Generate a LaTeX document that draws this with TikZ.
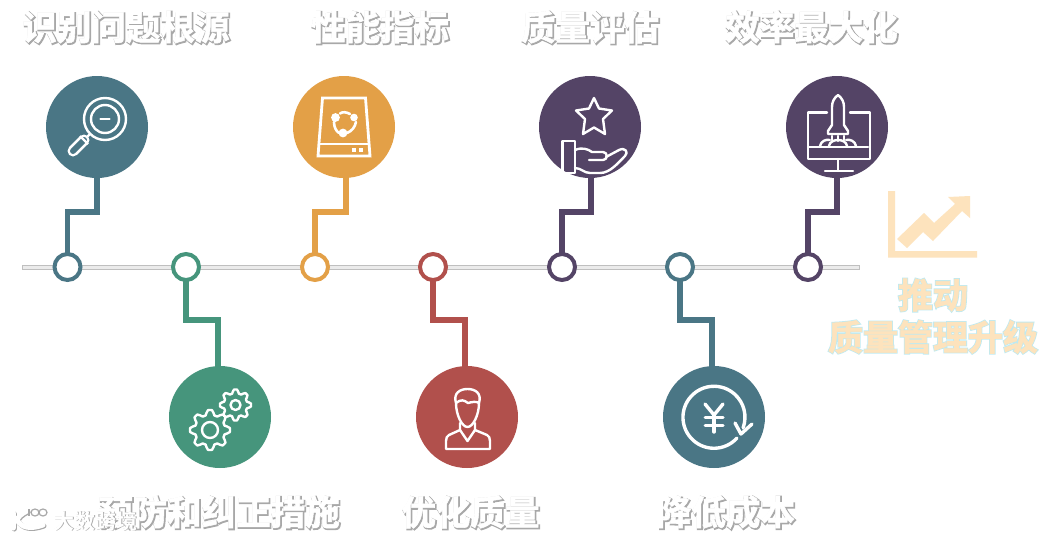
\documentclass[tikz,border=0pt]{standalone}
\usepackage{fontspec}
\usetikzlibrary{backgrounds}
\newfontfamily\cjktop[FakeBold=1.6]{Noto Sans CJK SC Bold}
\newfontfamily\cjkedge[FakeBold=6]{Noto Sans CJK SC Bold}
\newfontfamily\cjkmark{Noto Sans CJK SC Bold}
\definecolor{cteal}{HTML}{4A7685}
\definecolor{cgreen}{HTML}{46957C}
\definecolor{corange}{HTML}{E3A047}
\definecolor{cred}{HTML}{B1504C}
\definecolor{cpurple}{HTML}{544466}
\definecolor{ccream}{HTML}{FDE3BD}
\definecolor{ccyan}{HTML}{BDEAF2}
\definecolor{cedge}{HTML}{A8A8A8}
\tikzset{
  bigdot/.style={circle,inner sep=0pt,minimum size=102pt,fill=#1,draw=none},
  smalldot/.style={circle,inner sep=0pt,minimum size=26pt,fill=white,draw=#1,line width=4pt},
  link/.style={draw=#1,line width=5.5pt,miter limit=10},
  icon/.style={draw=white,line width=2.4pt,line cap=round,line join=round},
  titletop/.style={inner sep=0pt,text=white,font=\cjktop\fontsize{34.5}{40}\selectfont},
  titleedge/.style={inner sep=0pt,text=cedge,font=\cjkedge\fontsize{34.5}{40}\selectfont},
  creamtop/.style={inner sep=0pt,text=ccream,font=\cjktop\fontsize{35}{40}\selectfont},
  creamedge/.style={inner sep=0pt,text=ccyan,font=\cjkedge\fontsize{35}{40}\selectfont}
}
\newcommand{\bigtitle}[4]{%
  \node[titleedge] (#1e) at (#2+1.0,#3+1.0) {#4};
  \node[titletop] (#1) at (#2,#3) {#4};}
\newcommand{\creamtitle}[4]{%
  \node[creamedge] (#1e) at (#2,#3) {#4};
  \node[creamtop] (#1) at (#2,#3) {#4};}
\newcommand{\gearshape}[4]{% cx cy rout teeth
  \draw[icon] plot[smooth cycle,samples=#4*8,domain=0:360-360/(#4*8),variable=\a]
    ({#1+(#3*0.88+#3*0.12*max(-1,min(1,2.4*cos(#4*\a))))*cos(\a)},
     {#2+(#3*0.88+#3*0.12*max(-1,min(1,2.4*cos(#4*\a))))*sin(\a)});}
\begin{document}
\begin{tikzpicture}[x=1pt,y=-1pt]
\useasboundingbox (0,0) rectangle (1060,539);
% big circles
\node[bigdot=cteal] (t1) at (97,127) {};
\node[bigdot=corange] (t2) at (344,127) {};
\node[bigdot=cpurple] (t3) at (590,127) {};
\node[bigdot=cpurple] (t4) at (837,127) {};
\node[bigdot=cgreen] (b1) at (220,417) {};
\node[bigdot=cred] (b2) at (467,417) {};
\node[bigdot=cteal] (b3) at (714,417) {};
% small circles
\node[smalldot=cteal] (s1) at (67.5,267) {};
\node[smalldot=cgreen] (s2) at (186,267) {};
\node[smalldot=corange] (s3) at (315,267) {};
\node[smalldot=cred] (s4) at (433,267) {};
\node[smalldot=cpurple] (s5) at (562,267) {};
\node[smalldot=cteal] (s6) at (680,267) {};
\node[smalldot=cpurple] (s7) at (808,267) {};
% connectors and timeline
\begin{scope}[on background layer]
\fill[white] (0,0) rectangle (1060,539);
\draw[fill=black!8,draw=black!25,line width=1pt] (22,265) rectangle (859,269.5);
\coordinate (k1) at (97,212); \coordinate (k2) at (346,212);
\coordinate (k3) at (591,212); \coordinate (k4) at (837,212);
\coordinate (h2) at (346,127); \coordinate (h3) at (591,127);
\draw[link=cteal] (t1.center) -- (k1) -| (s1.center);
\draw[link=corange] (h2) -- (k2) -| (s3.center);
\draw[link=cpurple] (h3) -- (k3) -| (s5.center);
\draw[link=cpurple] (t4.center) -- (k4) -| (s7.center);
\coordinate (m1) at (218,320); \coordinate (m2) at (465,320); \coordinate (m3) at (712,320);
\coordinate (n1) at (218,380); \coordinate (n2) at (465,380); \coordinate (n3) at (712,380);
\draw[link=cgreen] (s2.center) |- (m1) -- (n1);
\draw[link=cred] (s4.center) |- (m2) -- (n2);
\draw[link=cteal] (s6.center) |- (m3) -- (n3);
\end{scope}
% magnifier
\draw[icon] (105,119) circle[radius=21];
\draw[icon] (105,119) circle[radius=14];
\draw[icon] (100.5,119) -- (109.5,119);
\draw[icon] (90,134) -- (85,139);
\draw[draw=white,line width=11pt,line cap=round] (84,140) -- (73,151);
\draw[draw=cteal,line width=6pt,line cap=round] (84,140) -- (73,151);
\draw[draw=white,line width=2.2pt] (80,136) -- (88,144);
% disk
\draw[icon,line width=2.8pt,line join=miter] (322.5,98) -- (365.5,98) -- (370,156) -- (318,156) -- cycle;
\draw[icon,line width=2.8pt] (319,144) -- (369,144);
\fill[white] (352,147.5) rectangle (356,151.5);
\fill[white] (359,147.5) rectangle (363,151.5);
\fill[white] (335.5,117.5) circle[radius=4.4];
\fill[white] (354,117.5) circle[radius=3.8];
\fill[white] (343,133) circle[radius=4.4];
\draw[icon,line width=2.6pt] (340,113.5) .. controls (343,111.5) and (346,112) .. (350,114);
\draw[icon,line width=2.6pt] (334,122) .. controls (334,127) and (336,131) .. (339,133);
\draw[icon,line width=2.6pt] (356,122) .. controls (355,127) and (352,131) .. (347,133);
% star and hand
\draw[icon] (594,98) -- (599,108.5) -- (612,110.5) -- (603,119) -- (605,134) -- (594,127.5) -- (583,134) -- (585,119) -- (576,110.5) -- (589,108.5) -- cycle;
\draw[icon] (562.5,141) rectangle (575,173);
\draw[icon] (575,150) .. controls (582,147) and (588,149) .. (592,152) -- (603,152) .. controls (608,152) and (608,160) .. (603,160) -- (589,160);
\draw[icon] (606,157) -- (619,150) .. controls (625,147) and (629,152) .. (625,156) .. controls (618,163) and (610,173) .. (600,173) -- (590,173) .. controls (584,173) and (581,168) .. (575,168);
% rocket
\draw[icon] (827,112.5) -- (808,112.5) -- (808,159) -- (870,159) -- (870,112.5) -- (850,112.5);
\draw[icon] (808,147) -- (868,147);
\draw[icon] (838,159) -- (838,171);
\draw[icon] (825,171) -- (853,171);
\draw[icon] (838,95) .. controls (834,98) and (832,102) .. (832,107) -- (832,125) -- (828,131) -- (828,134) -- (848,134) -- (848,131) -- (844,125) -- (844,107) .. controls (844,102) and (842,98) .. (838,95) -- cycle;
\draw[icon] (838,136) -- (838,141);
\draw[icon] (832,136) -- (832,140);
\draw[icon] (844,136) -- (844,140);
\draw[icon] (829,146) .. controls (830,138) and (846,138) .. (847,146);
\draw[icon] (820,146) .. controls (821,141) and (826,139) .. (830,140);
\draw[icon] (856,146) .. controls (855,141) and (850,139) .. (846,140);
% gears
\gearshape{210}{430}{20}{8}
\draw[icon] (210,430) circle[radius=8];
\gearshape{235.5}{405}{15.5}{8}
\draw[icon] (235.5,405) circle[radius=5];
% person
\draw[icon] (456,403) .. controls (453,393) and (460,389) .. (467.5,389) .. controls (475,389) and (482,393) .. (479,403) .. controls (479,415) and (473,427) .. (467.5,427) .. controls (462,427) and (456,415) .. (456,403) -- cycle;
\draw[icon] (456,403) .. controls (461,399) and (464,400) .. (468,403) .. controls (472,402) and (476,401) .. (479,403);
\draw[icon] (460,423) -- (460,430) -- (449,435) .. controls (447,436) and (446,438) .. (446,441) -- (446,449) -- (490,449) -- (490,441) .. controls (490,438) and (489,436) .. (487,435) -- (475,430) -- (475,423);
\draw[icon] (460,430) -- (467.5,441) -- (475,430);
% yen
\draw[icon,line width=3.4pt] (737,438) arc[start angle=42,end angle=380,radius=31];
\draw[icon,line width=3.4pt] (735,423) -- (741,434) -- (752,424);
\draw[icon,line width=3.4pt] (705,404) -- (714,415) -- (723,404);
\draw[icon,line width=3.4pt] (714,415) -- (714,432);
\draw[icon,line width=3pt] (705,417) -- (723,417);
\draw[icon,line width=3pt] (705,425) -- (723,425);
% chart
\fill[ccream] (888,191) -- (895,191) -- (895,251) -- (977,251) -- (977,257.5) -- (888,257.5) -- cycle;
\fill[ccream] (897,239) -- (924,213) -- (934,223) -- (955,204) -- (948,197) -- (970,196) -- (970,218) -- (962,211) -- (933,241) -- (923,232) -- (907,248) -- cycle;
% titles
\bigtitle{a1}{126}{27}{识别问题根源}
\bigtitle{a2}{380}{27}{性能指标}
\bigtitle{a3}{590}{27}{质量评估}
\bigtitle{a4}{811.5}{27}{效率最大化}
\bigtitle{a5}{219}{512}{预防和纠正措施}
\bigtitle{a6}{470.5}{512}{优化质量}
\bigtitle{a7}{726}{512}{降低成本}
\creamtitle{c1}{933}{295}{推动}
\creamtitle{c2}{933}{337}{质量管理升级}
% watermark
\draw[cedge,line width=5pt,line cap=round] (14,514) -- (14,529);
\draw[cedge,line width=5pt,line cap=round] (28,512) .. controls (22,515) and (19,518) .. (18,521) .. controls (22,528) and (30,531) .. (44,526);
\draw[white,line width=5pt,line cap=round] (13,513) -- (13,528);
\draw[white,line width=5pt,line cap=round] (27,511) .. controls (21,514) and (18,517) .. (17,520) .. controls (21,527) and (29,530) .. (43,525);
\draw[cedge,line width=1.2pt] (29,509) -- (29,516);
\draw[cedge,line width=1.2pt] (35,512.5) ellipse[x radius=4,y radius=3.5];
\draw[cedge,line width=1.2pt] (43,512.5) ellipse[x radius=4,y radius=3.5];
\node[inner sep=0pt,text=cedge,font=\cjkmark\fontsize{21}{24}\selectfont] (w1e) at (96,521.5) {大数跨境};
\node[inner sep=0pt,text=white,font=\cjkmark\fontsize{21}{24}\selectfont] (w1) at (95,521) {大数跨境};
\end{tikzpicture}
\end{document}
